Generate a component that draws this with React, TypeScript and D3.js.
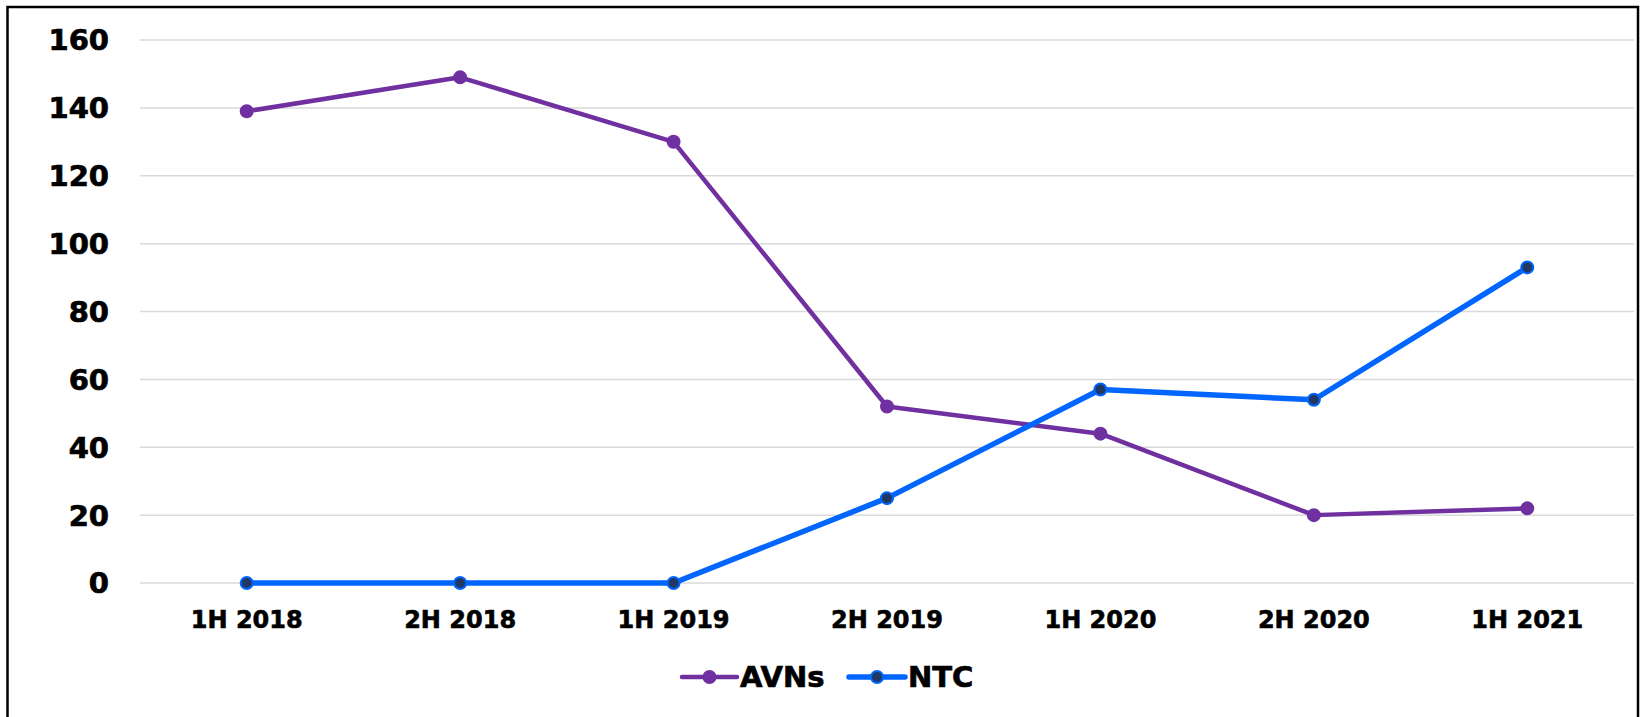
import { useEffect, useRef } from "react";
import * as d3 from "d3";

const categories = ["1H 2018", "2H 2018", "1H 2019", "2H 2019", "1H 2020", "2H 2020", "1H 2021"];
const avns = [139, 149, 130, 52, 44, 20, 22];
const ntc = [0, 0, 0, 25, 57, 54, 93];
const yTicks = [0, 20, 40, 60, 80, 100, 120, 140, 160];

const PURPLE = "#7030A0";
const BLUE = "#0066FF";
const DARK = "#1F3864";
const FONT = "'DejaVu Sans', Verdana, sans-serif";

export default function App() {
  const svgRef = useRef<SVGSVGElement>(null);

  useEffect(() => {
    if (!svgRef.current) return;
    const svg = d3.select(svgRef.current);
    svg.selectAll("*").remove();

    const width = 1640;
    const height = 717;
    const left = 140;
    const right = 1634;
    const top = 40;
    const bottom = 583;

    svg.append("rect").attr("width", width).attr("height", height).attr("fill", "white");

    // outer border (bottom runs off the page)
    svg
      .append("rect")
      .attr("x", 7.5)
      .attr("y", 7)
      .attr("width", 1630.5)
      .attr("height", 730)
      .attr("fill", "none")
      .attr("stroke", "black")
      .attr("stroke-width", 2.5);

    const x = d3.scalePoint<string>().domain(categories).range([left, right]).padding(0.5);
    const y = d3.scaleLinear().domain([0, 160]).range([bottom, top]);

    // gridlines
    svg
      .append("g")
      .selectAll("line")
      .data(yTicks)
      .enter()
      .append("line")
      .attr("x1", left)
      .attr("x2", right)
      .attr("y1", (d) => y(d))
      .attr("y2", (d) => y(d))
      .attr("stroke", "#d9d9d9")
      .attr("stroke-width", 1.5);

    // y labels
    svg
      .append("g")
      .selectAll("text")
      .data(yTicks)
      .enter()
      .append("text")
      .attr("x", 109)
      .attr("y", (d) => y(d))
      .attr("dy", "0.36em")
      .attr("text-anchor", "end")
      .attr("font-family", FONT)
      .attr("font-weight", "bold")
      .attr("font-size", 29)
      .attr("stroke", "black")
      .attr("stroke-width", 0.7)
      .text((d) => d);

    // x labels
    svg
      .append("g")
      .selectAll("text")
      .data(categories)
      .enter()
      .append("text")
      .attr("x", (d) => x(d)!)
      .attr("y", 628)
      .attr("text-anchor", "middle")
      .attr("font-family", FONT)
      .attr("font-weight", "bold")
      .attr("font-size", 24)
      .attr("stroke", "black")
      .attr("stroke-width", 0.6)
      .text((d) => d);

    const series = [
      { name: "AVNs", values: avns, stroke: PURPLE, fill: PURPLE, width: 4.5 },
      { name: "NTC", values: ntc, stroke: BLUE, fill: DARK, width: 5.5 },
    ];

    const line = d3
      .line<number>()
      .x((_, i) => x(categories[i])!)
      .y((d) => y(d));

    series.forEach((s) => {
      svg
        .append("path")
        .datum(s.values)
        .attr("d", line)
        .attr("fill", "none")
        .attr("stroke", s.stroke)
        .attr("stroke-width", s.width)
        .attr("stroke-linejoin", "round");

      svg
        .append("g")
        .selectAll("circle")
        .data(s.values)
        .enter()
        .append("circle")
        .attr("cx", (_, i) => x(categories[i])!)
        .attr("cy", (d) => y(d))
        .attr("r", 6)
        .attr("fill", s.fill)
        .attr("stroke", s.stroke)
        .attr("stroke-width", 2);
    });

    // legend
    const legendY = 677;
    const legendItems = [
      { ...series[0], x0: 682, x1: 737, tx: 740 },
      { ...series[1], x0: 849, x1: 905, tx: 908 },
    ];
    legendItems.forEach((l) => {
      svg
        .append("line")
        .attr("x1", l.x0)
        .attr("x2", l.x1)
        .attr("y1", legendY)
        .attr("y2", legendY)
        .attr("stroke", l.stroke)
        .attr("stroke-width", l.width)
        .attr("stroke-linecap", "round");
      svg
        .append("circle")
        .attr("cx", (l.x0 + l.x1) / 2)
        .attr("cy", legendY)
        .attr("r", 6)
        .attr("fill", l.fill)
        .attr("stroke", l.stroke)
        .attr("stroke-width", 2);
      svg
        .append("text")
        .attr("x", l.tx)
        .attr("y", legendY)
        .attr("dy", "0.36em")
        .attr("font-family", FONT)
        .attr("font-weight", "bold")
        .attr("font-size", 29)
        .attr("stroke", "black")
        .attr("stroke-width", 0.7)
        .text(l.name);
    });
  }, []);

  return (
    <svg
      ref={svgRef}
      width={1640}
      height={717}
      style={{ position: "absolute", left: 0, top: 0, display: "block" }}
    />
  );
}
